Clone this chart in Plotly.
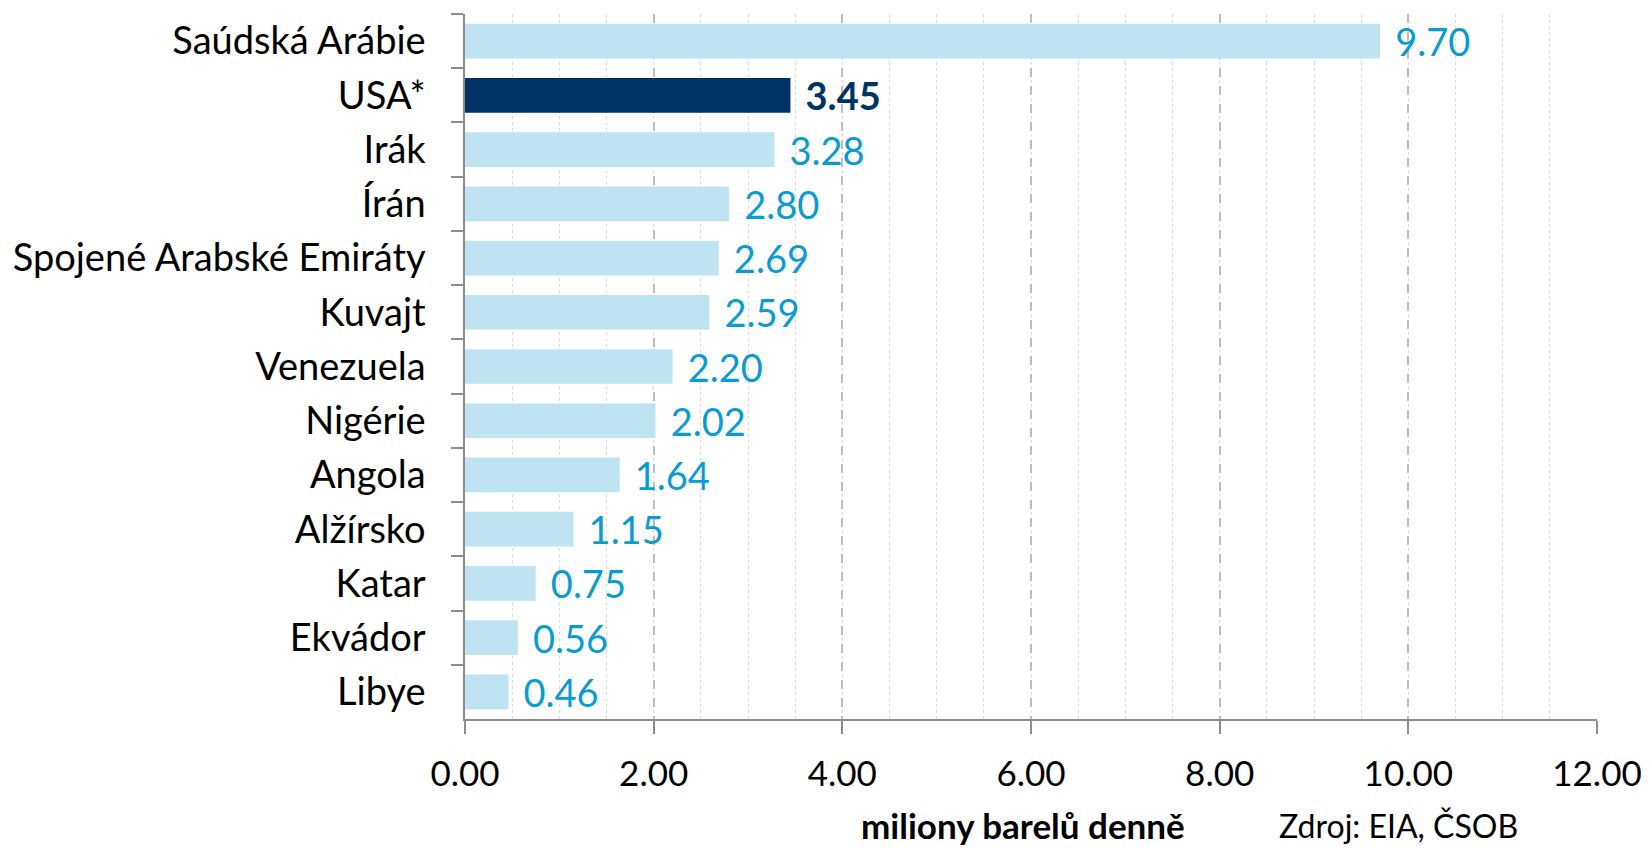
import plotly.graph_objects as go

countries = ["Saúdská Arábie", "USA*", "Irák", "Írán", "Spojené Arabské Emiráty",
             "Kuvajt", "Venezuela", "Nigérie", "Angola", "Alžírsko", "Katar",
             "Ekvádor", "Libye"]
values = [9.70, 3.45, 3.28, 2.80, 2.69, 2.59, 2.20, 2.02, 1.64, 1.15, 0.75, 0.56, 0.46]
highlight = "USA*"
x_ticks = [0, 2, 4, 6, 8, 10, 12]

LIGHT = "#BEE3F1"
DARK = "#003366"
LABEL = "#0A9BD0"
FONT = "Lato"
PAD = "\u00a0\u200a"

bar_colors = [DARK if c == highlight else LIGHT for c in countries]
texts = [PAD + (f"<b>{v:.2f}</b>" if c == highlight else f"{v:.2f}") for c, v in zip(countries, values)]
text_colors = [DARK if c == highlight else LABEL for c in countries]

# figure is placed at (8, 8) on the page by the default body margin
W, H = 1641, 840
L, R, T, B = 457, 52, 6, 129
px0, px1, py0, py1 = L, W - R, T, H - B  # plot area in figure coords

def paper_x(fx):
    return (fx - px0) / (px1 - px0)

def paper_y(fy):
    return (py1 - fy) / (py1 - py0)

fig = go.Figure(go.Bar(
    x=values, y=countries, orientation="h",
    marker=dict(color=bar_colors, line=dict(width=0)),
    text=texts, textposition="outside", cliponaxis=False,
    constraintext="none",
    textfont=dict(family=FONT, size=38, color=text_colors),
    hoverinfo="skip",
))

fig.update_layout(
    width=W, height=H,
    margin=dict(l=L, r=R, t=T, b=B),
    paper_bgcolor="white", plot_bgcolor="white",
    bargap=0.36, showlegend=False,
    font=dict(family=FONT, size=38, color="black"),
)

fig.update_xaxes(
    range=[0, 12], tickvals=x_ticks, ticktext=[f"{t:.2f}" for t in x_ticks],
    showgrid=True, gridcolor="#BDBDBD", gridwidth=1.5, griddash="dash",
    minor=dict(dtick=0.5, showgrid=True, gridcolor="#DADADA", gridwidth=1, griddash="dot"),
    showline=True, linecolor="#8C8C8C", linewidth=1.5,
    ticks="outside", ticklen=13, tickcolor="#8C8C8C", tickwidth=1.5,
    tickfont=dict(family=FONT, size=35, color="black"),
    ticklabelstandoff=10,
    zeroline=False,
)

fig.update_yaxes(
    categoryorder="array", categoryarray=countries, autorange="reversed",
    showline=True, linecolor="#8C8C8C", linewidth=1.5,
    ticks="outside", ticklen=12, tickcolor="#8C8C8C", tickwidth=1.5,
    tickson="boundaries",
    tickfont=dict(family=FONT, size=38, color="black"),
    ticklabelstandoff=30,
    showgrid=False, zeroline=False,
)

fig.add_annotation(text="<b>miliony barelů denně</b>", xref="paper", yref="paper",
                   x=paper_x(1023 - 8), y=paper_y(825 - 8),
                   showarrow=False, xanchor="center", yanchor="middle",
                   font=dict(family=FONT, size=35, color="black"))
fig.add_annotation(text="Zdroj: EIA, ČSOB", xref="paper", yref="paper",
                   x=paper_x(1277 - 8), y=paper_y(826 - 8),
                   showarrow=False, xanchor="left", yanchor="middle",
                   font=dict(family=FONT, size=32, color="black"))

fig.write_html("out.html")
